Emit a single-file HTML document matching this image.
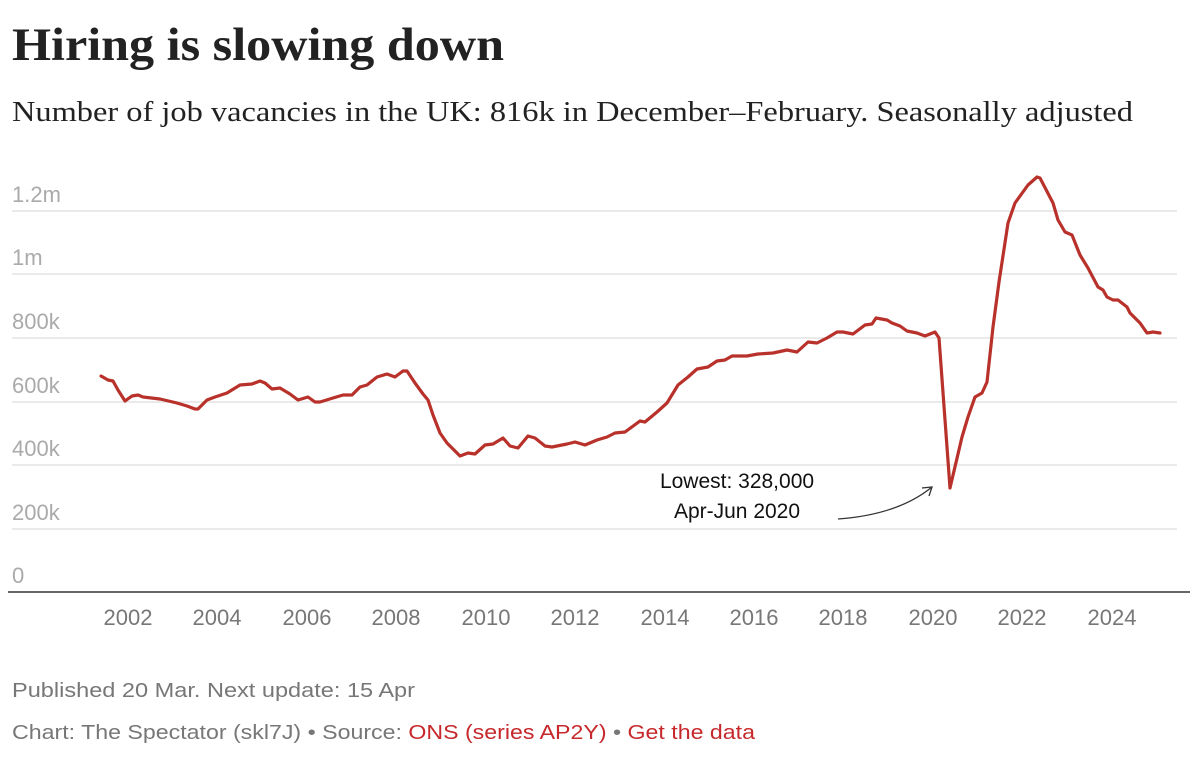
<!DOCTYPE html>
<html><head><meta charset="utf-8"><style>
html,body{margin:0;padding:0;background:#fff;}
svg{display:block;}
</style></head><body>
<svg width="1200" height="776" viewBox="0 0 1200 776" xmlns="http://www.w3.org/2000/svg">
<text x="12" y="60" font-family="Liberation Serif, serif" font-weight="bold" font-size="47" fill="#222" textLength="492" lengthAdjust="spacingAndGlyphs">Hiring is slowing down</text>
<text x="12" y="121" font-family="Liberation Serif, serif" font-size="29" fill="#222" textLength="1121" lengthAdjust="spacingAndGlyphs">Number of job vacancies in the UK: 816k in December–February. Seasonally adjusted</text>
<g stroke="#e4e4e4" stroke-width="1.5">
<line x1="12" x2="1177" y1="211" y2="211"/>
<line x1="12" x2="1177" y1="274" y2="274"/>
<line x1="12" x2="1177" y1="338" y2="338"/>
<line x1="12" x2="1177" y1="402" y2="402"/>
<line x1="12" x2="1177" y1="465" y2="465"/>
<line x1="12" x2="1177" y1="529" y2="529"/>
</g>
<line x1="8" x2="1190" y1="592" y2="592" stroke="#333" stroke-width="1.5"/>
<g font-family="Liberation Sans, sans-serif" font-size="22" fill="#aaa">
<text x="12" y="202">1.2m</text>
<text x="12" y="265">1m</text>
<text x="12" y="329">800k</text>
<text x="12" y="393">600k</text>
<text x="12" y="456">400k</text>
<text x="12" y="520">200k</text>
<text x="12" y="583">0</text>
</g>
<g font-family="Liberation Sans, sans-serif" font-size="22" fill="#777" text-anchor="middle">
<text x="128" y="625">2002</text><text x="217" y="625">2004</text><text x="307" y="625">2006</text><text x="396" y="625">2008</text><text x="486" y="625">2010</text><text x="575" y="625">2012</text><text x="665" y="625">2014</text><text x="754" y="625">2016</text><text x="843" y="625">2018</text><text x="933" y="625">2020</text><text x="1022" y="625">2022</text><text x="1112" y="625">2024</text>
</g>
<polyline fill="none" stroke="#b8312a" stroke-width="3.2" stroke-linejoin="round" stroke-linecap="round" points="101,376 108,380 113,381 118,390 125,401 132,396 138,395 143,397 160,399 177,403 187,406 195,409 198,409 207,400 215,397 227,393 240,385 252,384 260,381 265,383 272,389 280,388 290,394 298,400 308,397 315,402 320,402 333,398 343,395 352,395 360,387 367,385 377,377 387,374 395,377 403,371 407,371 415,383 423,394 428,400 433,415 440,433 447,443 460,456 468,453 475,454 485,445 493,444 503,438 510,446 518,448 528,436 535,438 545,446 552,447 567,444 575,442 585,445 597,440 607,437 615,433 625,432 640,421 645,422 657,412 667,403 678,385 688,377 697,369 708,367 717,361 725,360 732,356 747,356 758,354 773,353 787,350 797,352 808,342 817,343 827,338 837,332 843,332 853,334 865,325 872,324 876,318 887,320 892,323 900,326 907,331 917,333 925,336 935,332 939,338 950,488 962,437 968,417 975,397 982,393 987,382 993,327 999,282 1008,223 1015,203 1028,185 1037,177 1040,178 1053,203 1058,220 1065,232 1072,235 1080,255 1088,268 1098,287 1103,290 1107,297 1113,300 1118,300 1127,307 1130,313 1140,323 1147,333 1153,332 1160,333"/>
<g font-family="Liberation Sans, sans-serif" font-size="21" fill="#111" text-anchor="middle">
<text x="737" y="488">Lowest: 328,000</text>
<text x="737" y="518">Apr-Jun 2020</text>
</g>
<path d="M838,519 C880,516 910,505 932,487" fill="none" stroke="#333" stroke-width="1.3"/>
<path d="M922,488 L932,487 L929,496" fill="none" stroke="#333" stroke-width="1.3"/>
<text x="12" y="697" font-family="Liberation Sans, sans-serif" font-size="20" fill="#777" textLength="403" lengthAdjust="spacingAndGlyphs">Published 20 Mar. Next update: 15 Apr</text>
<text x="12" y="739" font-family="Liberation Sans, sans-serif" font-size="20" fill="#777" textLength="743" lengthAdjust="spacingAndGlyphs">Chart: The Spectator (skl7J) • Source: <tspan fill="#c6282b">ONS (series AP2Y)</tspan> • <tspan fill="#c6282b">Get the data</tspan></text>
</svg>
</body></html>
